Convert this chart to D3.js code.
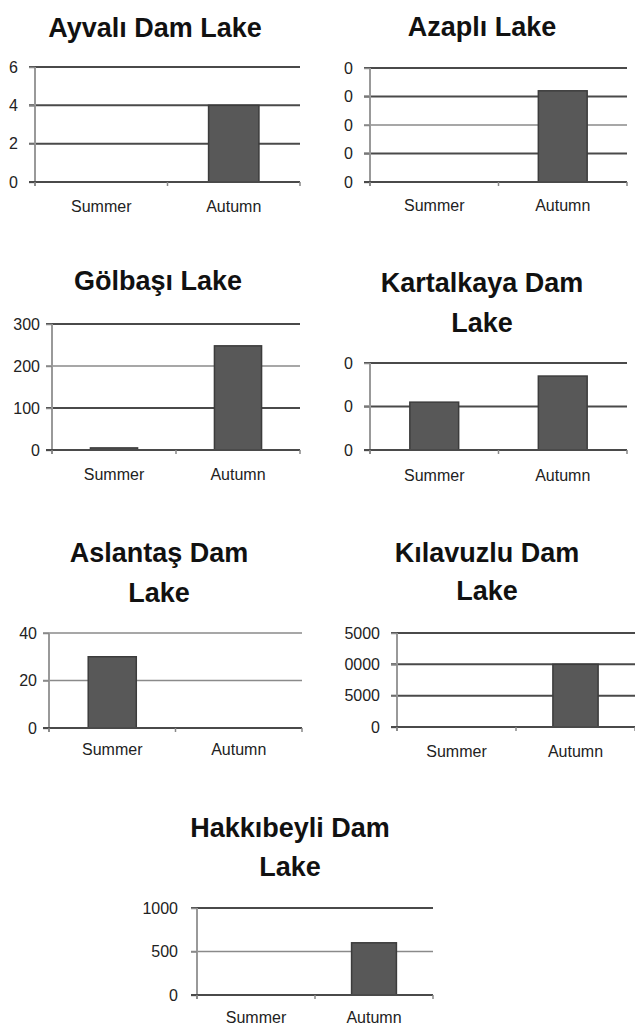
<!DOCTYPE html>
<html><head><meta charset="utf-8">
<script src="https://cdn.jsdelivr.net/npm/d3@7"></script>
<style>body{margin:0;background:#fff}svg{display:block}</style>
</head><body>
<script>
const categories = ["Summer", "Autumn"];

const ayvaliValues = [0, 4];
const ayvaliTicks = [0, 2, 4, 6];
const ayvaliTickLabels = ["0", "2", "4", "6"];

const azapliValues = [0, 32];
const azapliTicks = [0, 10, 20, 30, 40];
const azapliTickLabels = ["0", "0", "0", "0", "0"];

const golbasiValues = [5, 248];
const golbasiTicks = [0, 100, 200, 300];
const golbasiTickLabels = ["0", "100", "200", "300"];

const kartalkayaValues = [11, 17];
const kartalkayaTicks = [0, 10, 20];
const kartalkayaTickLabels = ["0", "0", "0"];

const aslantasValues = [30, 0];
const aslantasTicks = [0, 20, 40];
const aslantasTickLabels = ["0", "20", "40"];

const kilavuzluValues = [0, 10000];
const kilavuzluTicks = [0, 5000, 10000, 15000];
const kilavuzluTickLabels = ["0", "5000", "0000", "5000"];

const hakkibeyliValues = [0, 600];
const hakkibeyliTicks = [0, 500, 1000];
const hakkibeyliTickLabels = ["0", "500", "1000"];

const titles = [
  ["Ayvalı Dam Lake"], ["Azaplı Lake"], ["Gölbaşı Lake"], ["Kartalkaya Dam", "Lake"],
  ["Aslantaş Dam", "Lake"], ["Kılavuzlu Dam", "Lake"], ["Hakkıbeyli Dam", "Lake"]
];

// layout (positions only)
const panels = [
  {values: ayvaliValues, ticks: ayvaliTicks, labels: ayvaliTickLabels, title: titles[0],
   x0: 35, x1: 300, yTop: 67, yBot: 182, labR: 18, catY: 212, tx: 155, ty: [37], light: []},
  {values: azapliValues, ticks: azapliTicks, labels: azapliTickLabels, title: titles[1],
   x0: 370, x1: 627, yTop: 68, yBot: 182, labR: 353, catY: 211, tx: 482, ty: [36], light: [2]},
  {values: golbasiValues, ticks: golbasiTicks, labels: golbasiTickLabels, title: titles[2],
   x0: 52, x1: 300, yTop: 324, yBot: 450, labR: 40, catY: 480, tx: 158, ty: [290], light: [2]},
  {values: kartalkayaValues, ticks: kartalkayaTicks, labels: kartalkayaTickLabels, title: titles[3],
   x0: 370, x1: 627, yTop: 363, yBot: 450, labR: 353, catY: 481, tx: 482, ty: [292, 332], light: []},
  {values: aslantasValues, ticks: aslantasTicks, labels: aslantasTickLabels, title: titles[4],
   x0: 49, x1: 302, yTop: 633, yBot: 728, labR: 37, catY: 755, tx: 159, ty: [562, 602], light: [1, 2]},
  {values: kilavuzluValues, ticks: kilavuzluTicks, labels: kilavuzluTickLabels, title: titles[5],
   x0: 397, x1: 635, yTop: 633, yBot: 727, labR: 380, catY: 757, tx: 487, ty: [562, 600], light: []},
  {values: hakkibeyliValues, ticks: hakkibeyliTicks, labels: hakkibeyliTickLabels, title: titles[6],
   x0: 197, x1: 433, yTop: 908, yBot: 995, labR: 178, catY: 1023, tx: 290, ty: [837, 876], light: [1]}
];

const svg = d3.select("body").append("svg").attr("width", 635).attr("height", 1025);
const font = "'Liberation Sans', Arial, sans-serif";

panels.forEach(p => {
  const g = svg.append("g");
  const x = d3.scaleBand().domain(categories).range([p.x0, p.x1]).padding(0);
  const dom = d3.extent(p.ticks);
  const y = d3.scaleLinear().domain(dom).range([p.yBot, p.yTop]);

  // title
  p.title.forEach((t, i) => {
    g.append("text").attr("x", p.tx).attr("y", p.ty[i]).attr("text-anchor", "middle")
      .attr("font-family", font).attr("font-weight", "bold").attr("font-size", 27)
      .attr("fill", "#111").text(t);
  });

  // gridlines
  g.selectAll(".grid").data(p.ticks.slice(1)).join("line")
    .attr("x1", p.x0 - 6).attr("x2", p.x1)
    .attr("y1", d => y(d)).attr("y2", d => y(d))
    .attr("stroke", (d, i) => p.light.includes(i + 1) ? "#8a8a8a" : "#4a4a4a")
    .attr("stroke-width", (d, i) => p.light.includes(i + 1) ? 1.5 : 2);

  // y axis
  const ya = d3.axisLeft(y).tickValues(p.ticks).tickSize(6).tickFormat((d, i) => p.labels[i]);
  const yg = g.append("g").attr("transform", `translate(${p.x0},0)`).call(ya);
  yg.select(".domain").attr("stroke", "#999").attr("stroke-width", 2)
    .attr("d", `M0,${p.yTop}V${p.yBot + 4}`);
  yg.selectAll(".tick line").attr("stroke", "#888").attr("stroke-width", 1.5);
  yg.selectAll(".tick text").attr("x", p.labR - p.x0).attr("font-family", font)
    .attr("font-size", 16).attr("fill", "#222");

  // bars
  g.selectAll(".bar").data(categories.map((c, i) => ({c, v: p.values[i]})).filter(d => d.v > 0))
    .join("rect")
    .attr("x", d => x(d.c) + x.bandwidth() * 0.31)
    .attr("width", x.bandwidth() * 0.38)
    .attr("y", d => y(d.v))
    .attr("height", d => y(0) - y(d.v))
    .attr("fill", "#585858").attr("stroke", "#3c3c3c").attr("stroke-width", 1.5);

  // x axis baseline
  const xa = d3.axisBottom(x).tickSize(0).tickFormat(d => d);
  const xg = g.append("g").attr("transform", `translate(0,${p.yBot})`).call(xa);
  xg.select(".domain").attr("stroke", "#4a4a4a").attr("stroke-width", 2)
    .attr("d", `M${p.x0 - 6},0H${p.x1}`);
  xg.selectAll(".tick text").attr("y", p.catY - p.yBot).attr("dy", 0)
    .attr("font-family", font).attr("font-size", 16).attr("fill", "#222");
  // category separators
  const seps = [p.x0, x(categories[1]), p.x1];
  xg.selectAll(".sep").data(seps).join("line")
    .attr("x1", d => d).attr("x2", d => d).attr("y1", 0).attr("y2", 4)
    .attr("stroke", "#888").attr("stroke-width", 1.5);
});
</script>
</body></html>
